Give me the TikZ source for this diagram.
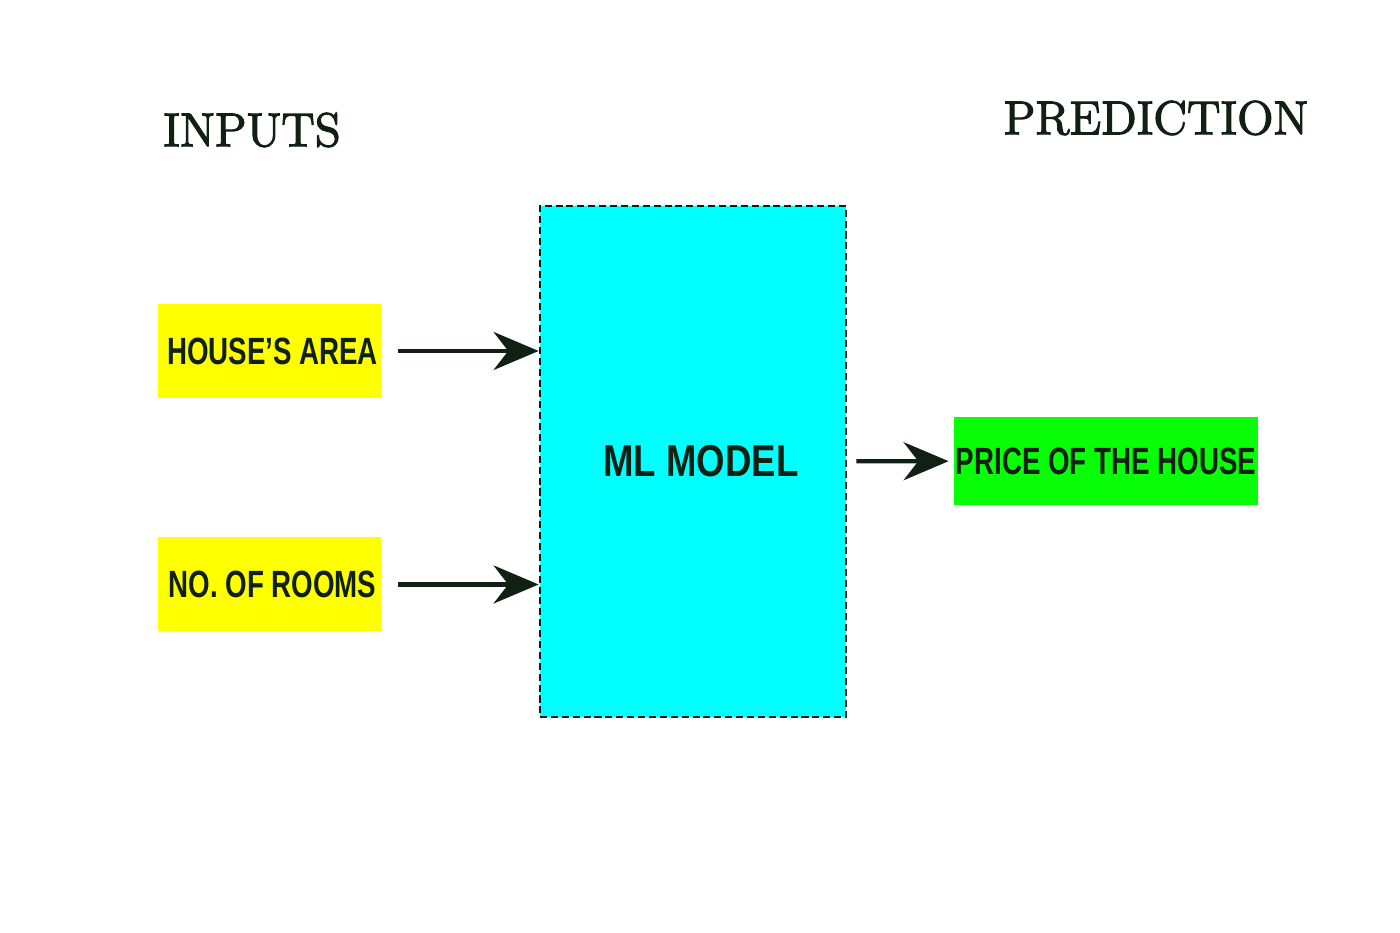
\documentclass[tikz,border=0pt]{standalone}
\usepackage{fontspec}
\usetikzlibrary{arrows.meta}
\newfontfamily\boxfont[FakeStretch=0.73]{Liberation Sans}
\newfontfamily\modelfont[FakeStretch=0.82]{Liberation Sans}
\newfontfamily\titlefont[FakeBold=2.5]{Latin Modern Roman}
\definecolor{ink}{RGB}{16,32,18}
\definecolor{areayellow}{RGB}{255,255,0}
\definecolor{modelcyan}{RGB}{0,255,255}
\definecolor{priceGreen}{RGB}{8,255,8}
\begin{document}
\begin{tikzpicture}[>={Stealth[length=4.5mm,width=3.8mm]}, thick,
  inbox/.style={fill=areayellow, minimum width=2.23cm, minimum height=0.94cm, inner sep=0pt, text=ink, font=\boxfont\bfseries\fontsize{10.8}{13}\selectfont},
  title/.style={text=ink, font=\titlefont\fontsize{13.5}{16}\selectfont},
  flow/.style={->, draw=ink, line width=1.2pt}]
\useasboundingbox (0,0) rectangle (14,9.33);
\node[title] (inputs) at (2.52,8.03) {INPUTS};
\node[title] (prediction) at (11.56,8.15) {PREDICTION};
\node[inbox] (area) at (2.695,5.82) {\hspace*{0.06cm}HOUSE’S AREA};
\node[inbox] (rooms) at (2.695,3.485) {\hspace*{0.06cm}NO. OF ROOMS};
\node[draw=ink, fill=modelcyan, line width=0.8pt, dash pattern=on 2pt off 1.1pt, minimum width=3.06cm, minimum height=5.11cm, text=ink, font=\modelfont\bfseries\fontsize{12.7}{15}\selectfont] (model) at (6.93,4.715) {\hspace*{0.16cm}ML MODEL};
\node[fill=priceGreen, minimum width=3.04cm, minimum height=0.88cm, inner sep=0pt, text=ink, font=\boxfont\bfseries\fontsize{10.8}{13}\selectfont] (price) at (11.06,4.72) {PRICE OF THE HOUSE};
\draw[flow, shorten <=0.16cm] (area) -- (model.west |- area);
\draw[flow, shorten <=0.16cm] (rooms) -- (model.west |- rooms);
\draw[flow, shorten <=0.09cm, shorten >=0.04cm] (model) -- (price);
\end{tikzpicture}
\end{document}
